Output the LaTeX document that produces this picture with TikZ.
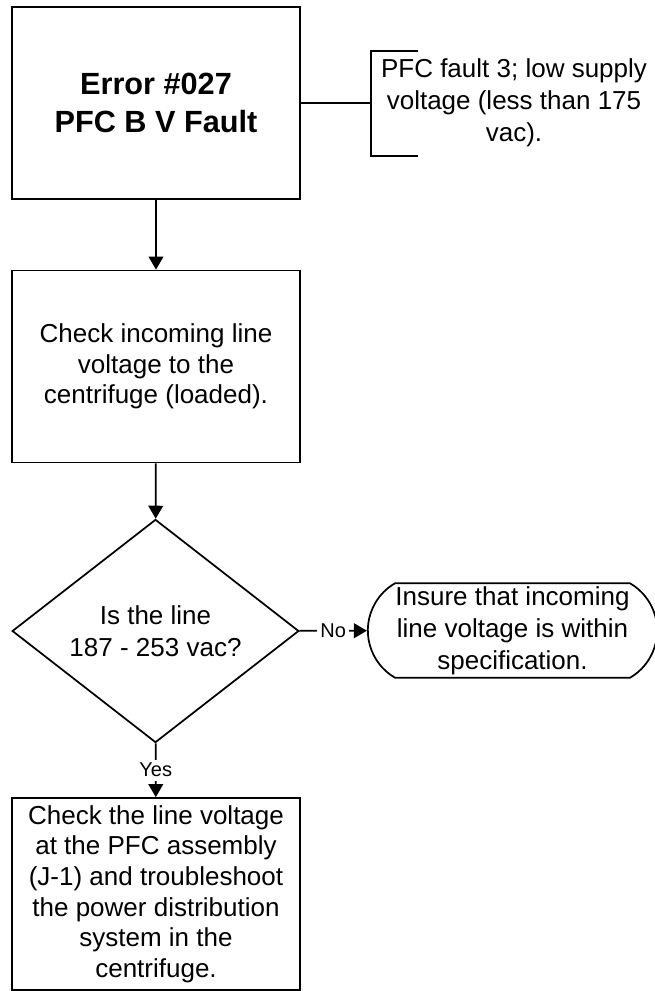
\documentclass[tikz,border=0pt]{standalone}
\usepackage{fontspec}
\setmainfont{Liberation Sans}
\usepackage{tikz}
\usetikzlibrary{arrows.meta,shapes.geometric,shapes.misc}
\tikzset{
  box/.style={draw, line width=1.3pt, align=center, minimum width=216pt, minimum height=144pt, inner sep=2pt, font=\fontsize{19.5}{23}\selectfont},
  errbox/.style={box, font=\fontsize{23}{28.5}\selectfont\bfseries},
  decision/.style={diamond, draw, line width=1.3pt, align=center, minimum width=215pt, minimum height=144pt, inner sep=0pt, font=\fontsize{19.5}{24}\selectfont},
  terminal/.style={rounded rectangle, rounded rectangle arc length=120, draw, line width=1.3pt, align=center, minimum width=211pt, minimum height=71pt, inner sep=0pt, inner xsep=-3pt, font=\fontsize{19.5}{24}\selectfont},
  note/.style={align=center, inner sep=0pt, font=\fontsize{19.5}{24}\selectfont},
  lbl/.style={fill=white, inner sep=2.5pt, font=\fontsize{15}{17}\selectfont},
  arrow/.style={-{Triangle[length=9.75pt,width=11pt]}, line width=1.3pt},
  link/.style={line width=1.3pt}
}

\begin{document}
\begin{tikzpicture}[x=0.75pt,y=-0.75pt]
  \useasboundingbox (0,0) rectangle (654,991);

  \node[errbox] (err) at (156,103) {Error \#027\\PFC B V Fault};
  \node[note] (fault) at (514,103) {PFC fault 3; low supply\\voltage (less than 175\\vac).};
  \coordinate (brk) at (371,103);

  \node[box] (chkline) at (156,366.5) {Check incoming line\\voltage to the\\centrifuge (loaded).};
  \node[decision] (isline) at (155.5,631) {Is the line\\187 - 253 vac?};
  \node[terminal] (insure) at (512.5,630.5) {Insure that incoming\\line voltage is within\\specification.};
  \node[box] (chkpfc) at (156,894) {Check the line voltage\\at the PFC assembly\\(J-1) and troubleshoot\\the power distribution\\system in the\\centrifuge.};

  \draw[link] (err) -- (brk);
  \draw[link] (418,51) -- (371,51) -- (371,156) -- (418,156);

  \draw[arrow] (err) -- (chkline);
  \draw[arrow] (chkline) -- (isline);
  \draw[arrow] (isline) -- node[lbl] {No} (insure);
  \draw[arrow] (isline) -- node[lbl] {Yes} (chkpfc);
\end{tikzpicture}
\end{document}
